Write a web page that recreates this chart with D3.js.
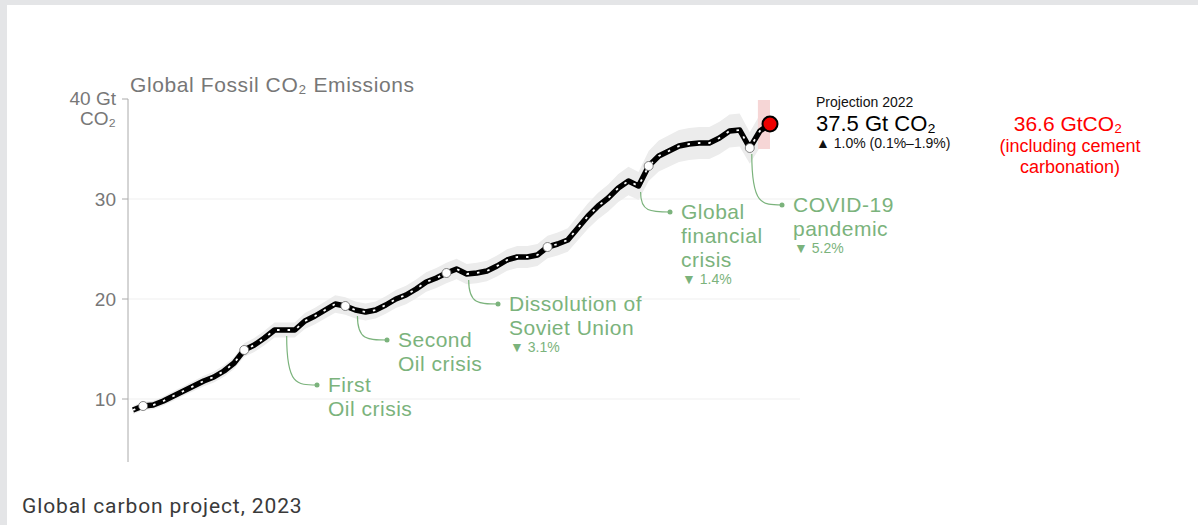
<!DOCTYPE html>
<html>
<head>
<meta charset="utf-8">
<script src="https://cdn.jsdelivr.net/npm/d3@7"></script>
<style>
  body { margin: 0; background: #e4e5e7; }
  svg { display: block; }
  text { font-family: "Liberation Sans", Arial, sans-serif; }
</style>
</head>
<body>
<script>
// emissions, Gt CO2 per year
const years = d3.range(1959, 2023);
const emissions = [
  8.9, 9.3, 9.4, 9.8, 10.3, 10.8, 11.3, 11.8, 12.2, 12.8, 13.6,
  14.9, 15.4, 16.1, 16.9, 16.9, 16.9, 17.8, 18.3, 18.9, 19.5,
  19.3, 18.9, 18.7, 18.9, 19.4, 20.0, 20.4, 21.0, 21.7, 22.1,
  22.6, 23.0, 22.5, 22.6, 22.8, 23.3, 23.9, 24.2, 24.2, 24.4,
  25.2, 25.5, 25.9, 27.1, 28.3, 29.3, 30.1, 31.1, 31.8, 31.3,
  33.3, 34.3, 34.8, 35.3, 35.5, 35.6, 35.6, 36.1, 36.8, 36.9,
  35.1, 36.8, 37.5
];
const circleYears = [1960, 1970, 1980, 1990, 2000, 2010, 2020];
const yTicks = [10, 20, 30];

const events = [
  { year: 1974, dot: [317, 385], lines: ["First", "Oil crisis"], pct: null },
  { year: 1981, dot: [387, 340], lines: ["Second", "Oil crisis"], pct: null },
  { year: 1992, dot: [498, 304], lines: ["Dissolution of", "Soviet Union"], pct: "3.1%" },
  { year: 2009, dot: [670, 212], lines: ["Global", "financial", "crisis"], pct: "1.4%" },
  { year: 2020, dot: [782, 205], lines: ["COVID-19", "pandemic"], pct: "5.2%" }
];

const W = 1198, H = 525;
const svg = d3.select("body").append("svg").attr("width", W).attr("height", H);
svg.append("rect").attr("x", 7).attr("y", 5).attr("width", W - 7).attr("height", H - 5).attr("fill", "#fff");

const x = d3.scaleLinear().domain([1959, 2022]).range([133, 770]);
const y = d3.scaleLinear().domain([0, 40]).range([499, 99]);
const green = "#7bb37c";

// grid
svg.append("g").selectAll("line").data(yTicks).join("line")
  .attr("x1", 128).attr("x2", 800)
  .attr("y1", d => y(d)).attr("y2", d => y(d))
  .attr("stroke", "#efefef");

// axis
svg.append("line").attr("x1", 128).attr("x2", 128).attr("y1", y(40)).attr("y2", 462)
  .attr("stroke", "#aaa");
svg.append("g").selectAll("line").data(yTicks.concat([40])).join("line")
  .attr("x1", 122).attr("x2", 128).attr("y1", d => y(d)).attr("y2", d => y(d))
  .attr("stroke", "#aaa");
svg.append("g").selectAll("text").data(yTicks).join("text")
  .attr("x", 116).attr("y", d => y(d) + 7).attr("text-anchor", "end")
  .attr("font-size", 19).attr("fill", "#777").text(d => d);
svg.append("text").attr("x", 116).attr("y", 105).attr("text-anchor", "end")
  .attr("font-size", 19).attr("fill", "#777").text("40 Gt");
svg.append("text").attr("x", 116).attr("y", 125).attr("text-anchor", "end")
  .attr("font-size", 19).attr("fill", "#777").text("CO₂");

svg.append("text").attr("x", 130).attr("y", 92).attr("font-size", 21).attr("fill", "#777")
  .attr("letter-spacing", 0.6).text("Global Fossil CO₂ Emissions");

// uncertainty band
const data = years.map((yr, i) => ({ yr, v: emissions[i] }));
svg.append("path").datum(data)
  .attr("d", d3.area().x(d => x(d.yr)).y0(d => y(d.v * 0.955)).y1(d => y(d.v * 1.045)))
  .attr("fill", "#ececec");
svg.append("rect").attr("x", x(2021) - 2).attr("width", x(2022) - x(2021) + 2)
  .attr("y", y(39.9)).attr("height", y(35) - y(39.9)).attr("fill", "#f6d6d6");

// leader lines
events.forEach(e => {
  const sx = x(e.year) + 2, sy = y(emissions[e.year - 1959]) + 6;
  const [dx, dy] = e.dot;
  svg.append("path")
    .attr("d", `M${sx},${sy} C${sx},${dy} ${sx + 10},${dy} ${dx},${dy}`)
    .attr("fill", "none").attr("stroke", green).attr("stroke-width", 1.2);
  svg.append("circle").attr("cx", dx).attr("cy", dy).attr("r", 2.5).attr("fill", green);
  const t = svg.append("text").attr("font-size", 21).attr("fill", green).attr("letter-spacing", 0.5);
  e.lines.forEach((l, i) => t.append("tspan").attr("x", dx + 11).attr("y", dy + 7 + i * 24).text(l));
  if (e.pct) {
    svg.append("text").attr("x", dx + 12).attr("y", dy + 7 + (e.lines.length - 1) * 24 + 17)
      .attr("font-size", 14).attr("fill", green).text("▼ " + e.pct);
  }
});

// main line
const line = d3.line().x(d => x(d.yr)).y(d => y(d.v));
svg.append("path").datum(data).attr("d", line).attr("fill", "none")
  .attr("stroke", "#000").attr("stroke-width", 5.5).attr("stroke-linejoin", "round");
svg.append("path").datum(data).attr("d", line).attr("fill", "none")
  .attr("stroke", "#fff").attr("stroke-width", 1.8).attr("stroke-dasharray", "2.5,8");

svg.append("g").selectAll("circle").data(circleYears).join("circle")
  .attr("cx", d => x(d)).attr("cy", d => y(emissions[d - 1959]))
  .attr("r", 4.5).attr("fill", "#fff").attr("stroke", "#666").attr("stroke-width", 0.8);
svg.append("circle").attr("cx", x(2022)).attr("cy", y(37.5)).attr("r", 7.5)
  .attr("fill", "#e00").attr("stroke", "#000").attr("stroke-width", 2);

// projection text
svg.append("text").attr("x", 816).attr("y", 107).attr("font-size", 14).attr("fill", "#111").text("Projection 2022");
svg.append("text").attr("x", 816).attr("y", 131).attr("font-size", 22).attr("fill", "#000").text("37.5 Gt CO₂");
svg.append("text").attr("x", 816).attr("y", 148).attr("font-size", 14).attr("fill", "#111").text("▲ 1.0% (0.1%–1.9%)");

svg.append("text").attr("x", 1068).attr("y", 131).attr("text-anchor", "middle")
  .attr("font-size", 21).attr("fill", "#f00").text("36.6 GtCO₂");
svg.append("text").attr("x", 1070).attr("y", 152).attr("text-anchor", "middle").attr("font-size", 18).attr("fill", "#f00").text("(including cement");
svg.append("text").attr("x", 1070).attr("y", 173).attr("text-anchor", "middle").attr("font-size", 18).attr("fill", "#f00").text("carbonation)");

svg.append("text").attr("x", 22).attr("y", 513).attr("font-size", 21).attr("letter-spacing", 0.9)
  .attr("fill", "#3a3a3a").style("font-family", "Roboto, sans-serif").text("Global carbon project, 2023");
</script>
</body>
</html>
